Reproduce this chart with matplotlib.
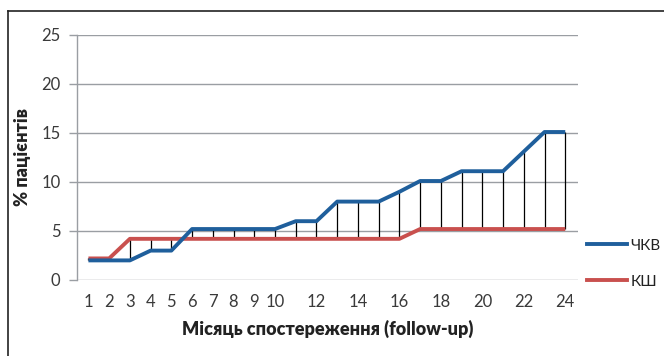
import matplotlib
matplotlib.use("Agg")
import matplotlib.pyplot as plt
from matplotlib.lines import Line2D

plt.rcParams['font.family'] = ['Lato', 'DejaVu Sans']

months = list(range(1, 25))
pci = [2.0, 2.0, 2.0, 3.0, 3.0, 5.2, 5.2, 5.2, 5.2, 5.2, 6.0, 6.0,
       8.0, 8.0, 8.0, 9.0, 10.1, 10.1, 11.1, 11.1, 11.1, 13.1, 15.1, 15.1]
cabg = [2.2, 2.2, 4.2, 4.2, 4.2, 4.2, 4.2, 4.2, 4.2, 4.2, 4.2, 4.2,
        4.2, 4.2, 4.2, 4.2, 5.2, 5.2, 5.2, 5.2, 5.2, 5.2, 5.2, 5.2]
tick_months = [1, 2, 3, 4, 5, 6, 7, 8, 9, 10, 12, 14, 16, 18, 20, 22, 24]
series_names = ['ЧКВ', 'КШ']

blue = '#1f5f9c'
red = '#c9504e'
txt = '#3a3a3a'

fig = plt.figure(figsize=(6.64, 3.56), dpi=100)
ax = fig.add_axes([0.116, 0.2135, 0.754, 0.6882])

# high-low lines between the two series
lo = [min(a, b) for a, b in zip(pci, cabg)]
hi = [max(a, b) for a, b in zip(pci, cabg)]
ax.vlines(months, lo, hi, color='black', lw=0.9, zorder=2)

ax.plot(months, pci, color=blue, lw=2.8, solid_capstyle='butt', zorder=4)
ax.plot(months, cabg, color=red, lw=2.8, solid_capstyle='butt', zorder=3)

ax.set_xlim(0.45, 24.6)
ax.set_ylim(0, 25)
ax.set_yticks(range(0, 26, 5))
ax.set_xticks(tick_months)
ax.set_xticklabels([str(m) for m in tick_months])
ax.grid(axis='y', color='#9a9ea3', lw=1.0)
ax.set_axisbelow(True)
for s in ['top', 'right', 'bottom']:
    ax.spines[s].set_visible(False)
ax.spines['left'].set_color('#9a9ea3')
ax.spines['left'].set_linewidth(1.0)
ax.tick_params(axis='y', length=6, width=1.0, color='#9a9ea3', pad=6,
               labelsize=12, labelcolor=txt)
ax.tick_params(axis='x', length=0, pad=10, labelsize=12, labelcolor=txt)

ax.set_xlabel('Місяць спостереження (follow-up)', fontsize=13,
              fontweight='heavy', color='#222222', labelpad=7)
ax.set_ylabel('% пацієнтів', fontsize=13, fontweight='heavy',
              color='#222222', labelpad=7)

handles = [Line2D([], [], color=blue, lw=2.8),
           Line2D([], [], color=red, lw=2.8)]
fig.legend(handles, series_names, loc='upper left',
           bbox_to_anchor=(0.884, 0.33), frameon=False, fontsize=11,
           handlelength=2.6, handletextpad=0.25, labelspacing=1.45,
           borderpad=0, labelcolor='#222222', borderaxespad=0)

# frame around the chart area
fig.add_artist(Line2D([0.012, 1.0], [0.969, 0.969], color='#222222',
                      lw=1.2, transform=fig.transFigure))
fig.add_artist(Line2D([0.012, 0.012], [0.0, 0.969], color='#222222',
                      lw=1.2, transform=fig.transFigure))

fig.savefig('out.png', dpi=100)
